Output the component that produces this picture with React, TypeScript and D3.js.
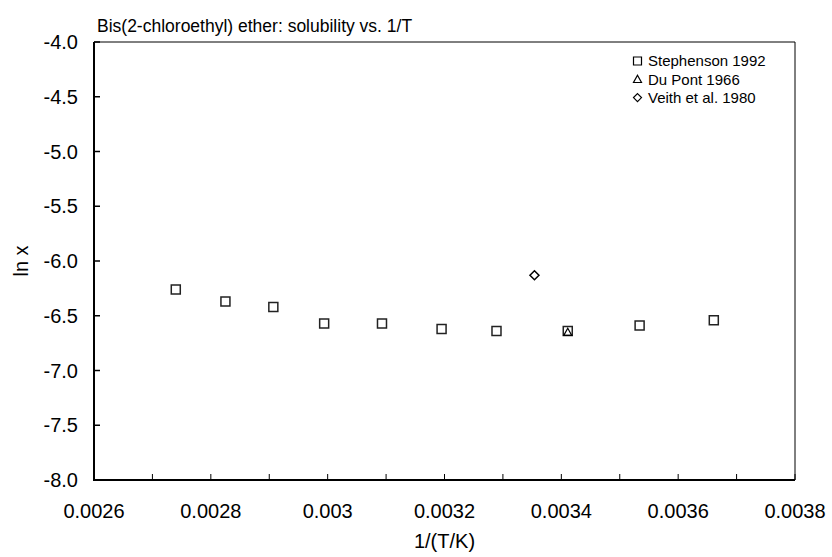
import React from "react";
import * as d3 from "d3";

const stephensonX = [0.00274, 0.002825, 0.002907, 0.002994, 0.003093, 0.003195, 0.003289, 0.003411, 0.003534, 0.003661];
const stephensonY = [-6.26, -6.37, -6.42, -6.57, -6.57, -6.62, -6.64, -6.64, -6.59, -6.54];
const dupontX = [0.003411];
const dupontY = [-6.65];
const veithX = [0.003354];
const veithY = [-6.13];
const xTicks = [0.0026, 0.0028, 0.003, 0.0032, 0.0034, 0.0036, 0.0038];
const xTickLabels = ["0.0026", "0.0028", "0.003", "0.0032", "0.0034", "0.0036", "0.0038"];
const yTicks = [-4, -4.5, -5, -5.5, -6, -6.5, -7, -7.5, -8];
const legendLabels = ["Stephenson 1992", "Du Pont 1966", "Veith et al. 1980"];

const W = 832, H = 557;
const L = 94, R = 795, T = 42, B = 480;
const FONT = "'Liberation Sans', Arial, sans-serif";

const sq = (x: number, y: number, s = 4.5) => `M${x - s},${y - s}H${x + s}V${y + s}H${x - s}Z`;
const tri = (x: number, y: number, s = 4.5) => `M${x},${y - s}L${x + s},${y + s * 0.8}L${x - s},${y + s * 0.8}Z`;
const dia = (x: number, y: number, s = 4.5) => `M${x},${y - s}L${x + s},${y}L${x},${y + s}L${x - s},${y}Z`;

export default function App() {
  const x = d3.scaleLinear().domain([0.0026, 0.0038]).range([L, R]);
  const y = d3.scaleLinear().domain([-8, -4]).range([B, T]);
  const minor = d3.range(0, 13).map((i) => 0.0026 + i * 0.0001);
  return (
    <svg width={W} height={H} style={{ position: "absolute", left: 0, top: 0 }} fontFamily={FONT}>
      <rect width={W} height={H} fill="#fff" />
      <text x={97} y={32} fontSize={17.5}>Bis(2-chloroethyl) ether: solubility vs. 1/T</text>
      {/* frame */}
      <line x1={L} x2={R} y1={T} y2={T} stroke="#000" strokeWidth={1} />
      <line x1={R} x2={R} y1={T} y2={B} stroke="#000" strokeWidth={1} />
      <line x1={L} x2={L} y1={T} y2={B + 1} stroke="#000" strokeWidth={2} />
      <line x1={L - 1} x2={R} y1={B} y2={B} stroke="#000" strokeWidth={2} />
      {yTicks.map((t) => (
        <g key={t}>
          <line x1={L} x2={L + 6} y1={y(t)} y2={y(t)} stroke="#000" strokeWidth={1.5} />
          <text x={78} y={y(t)} dy="0.35em" textAnchor="end" fontSize={20}>{t.toFixed(1)}</text>
        </g>
      ))}
      {minor.map((t, i) => (
        <line key={i} x1={x(t)} x2={x(t)} y1={B} y2={B - 6} stroke="#000" strokeWidth={1} />
      ))}
      {xTicks.map((t, i) => (
        <text key={t} x={x(t)} y={518} textAnchor="middle" fontSize={20}>{xTickLabels[i]}</text>
      ))}
      <text x={(L + R) / 2} y={548} textAnchor="middle" fontSize={20}>1/(T/K)</text>
      <text transform={`translate(28,${(T + B) / 2}) rotate(-90)`} textAnchor="middle" fontSize={20}>ln x</text>
      {/* data */}
      {stephensonX.map((v, i) => (
        <path key={"s" + i} d={sq(x(v), y(stephensonY[i]))} fill="none" stroke="#222" strokeWidth={1.5} />
      ))}
      {dupontX.map((v, i) => (
        <path key={"d" + i} d={tri(x(v), y(dupontY[i]), 4)} fill="none" stroke="#000" strokeWidth={1.2} />
      ))}
      {veithX.map((v, i) => (
        <path key={"v" + i} d={dia(x(v), y(veithY[i]))} fill="none" stroke="#000" strokeWidth={1.5} />
      ))}
      {/* legend */}
      {legendLabels.map((lab, i) => {
        const ly = 61 + i * 18.3;
        const mk = i === 0 ? sq(637.5, ly, 4) : i === 1 ? tri(637.5, ly, 4) : dia(637.5, ly, 4);
        return (
          <g key={lab}>
            <path d={mk} fill="none" stroke="#000" strokeWidth={1.2} />
            <text x={648} y={ly} dy="0.35em" fontSize={15}>{lab}</text>
          </g>
        );
      })}
    </svg>
  );
}
